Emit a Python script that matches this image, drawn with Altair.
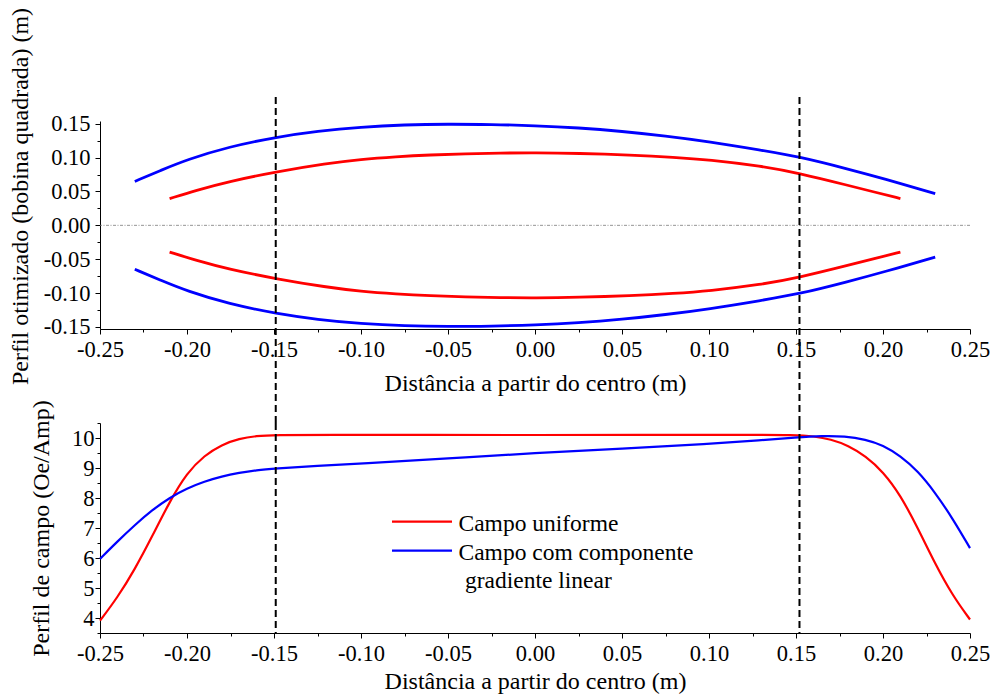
import altair as alt
import pandas as pd

# ---------------- data ----------------
# Top panel: optimised coil profile (m) vs distance from centre (m)
blue_top_x = [-0.230, -0.215, -0.200, -0.176, -0.148, -0.125, -0.100, -0.075, -0.050, -0.025,
              0.000, 0.025, 0.050, 0.075, 0.100, 0.130, 0.152, 0.180, 0.200, 0.230]
blue_up_y = [0.0648, 0.0813, 0.0970, 0.1160, 0.1306, 0.1390, 0.1452, 0.1485, 0.1495, 0.1488,
             0.1472, 0.1440, 0.1388, 0.1318, 0.1235, 0.1108, 0.1013, 0.0830, 0.0692, 0.0468]
blue_down_y = [-0.0648, -0.0813, -0.0970, -0.1160, -0.1306, -0.1390, -0.1452, -0.1485, -0.1495, -0.1488,
               -0.1472, -0.1440, -0.1388, -0.1318, -0.1235, -0.1108, -0.1013, -0.0830, -0.0692, -0.0468]

red_top_x = [-0.210, -0.195, -0.176, -0.148, -0.120, -0.100, -0.080, -0.060, -0.040, -0.020,
             0.000, 0.025, 0.055, 0.080, 0.100, 0.130, 0.152, 0.180, 0.195, 0.210]
red_up_y = [0.0395, 0.0515, 0.0648, 0.0794, 0.0912, 0.0975, 0.1013, 0.1040, 0.1057, 0.1067,
            0.1072, 0.1063, 0.1038, 0.1005, 0.0968, 0.0875, 0.0769, 0.0589, 0.0492, 0.0395]
red_down_y = [-0.0395, -0.0515, -0.0648, -0.0794, -0.0912, -0.0975, -0.1013, -0.1040, -0.1057, -0.1067,
              -0.1072, -0.1063, -0.1038, -0.1005, -0.0968, -0.0875, -0.0769, -0.0589, -0.0492, -0.0395]

# Bottom panel: field profile (Oe/Amp) vs distance from centre (m)
red_field_x = [-0.250, -0.240, -0.230, -0.220, -0.210, -0.200, -0.190, -0.180, -0.170, -0.160,
               -0.150, -0.120, -0.060, 0.000, 0.060, 0.120, 0.150, 0.160, 0.170, 0.180,
               0.190, 0.200, 0.210, 0.220, 0.230, 0.240, 0.250]
red_field_y = [3.91, 4.68, 5.62, 6.72, 7.88, 8.84, 9.42, 9.78, 9.98, 10.07,
               10.10, 10.11, 10.10, 10.10, 10.10, 10.11, 10.10, 10.06, 9.96, 9.75,
               9.40, 8.88, 8.10, 7.00, 5.80, 4.75, 3.95]

blue_field_x = [-0.250, -0.240, -0.230, -0.220, -0.210, -0.200, -0.190, -0.180, -0.170, -0.160,
                -0.150, -0.125, -0.100, -0.050, 0.000, 0.050, 0.100, 0.130, 0.150, 0.165,
                0.178, 0.190, 0.200, 0.210, 0.220, 0.230, 0.240, 0.250]
blue_field_y = [5.97, 6.55, 7.10, 7.60, 8.01, 8.32, 8.55, 8.72, 8.84, 8.93,
                8.98, 9.07, 9.15, 9.32, 9.50, 9.64, 9.80, 9.93, 10.02, 10.07,
                10.06, 9.95, 9.76, 9.40, 8.90, 8.18, 7.32, 6.33]

dashed_x = [-0.149, 0.152]

series_names = ["Campo uniforme", "Campo com componente gradiente linear"]
series_colors = ["#ff0000", "#0000ff"]
legend_lines = ["Campo uniforme", "Campo com componente", "gradiente linear"]

x_ticks = [-0.25, -0.225, -0.2, -0.175, -0.15, -0.125, -0.1, -0.075, -0.05, -0.025, 0.0,
           0.025, 0.05, 0.075, 0.1, 0.125, 0.15, 0.175, 0.2, 0.225, 0.25]
y_top_ticks = [-0.15, -0.125, -0.1, -0.075, -0.05, -0.025, 0.0, 0.025, 0.05, 0.075, 0.1, 0.125, 0.15]
y_bot_ticks = [3.5, 4.0, 4.5, 5.0, 5.5, 6.0, 6.5, 7.0, 7.5, 8.0, 8.5, 9.0, 9.5, 10.0, 10.5]

x_title = "Distância a partir do centro (m)"
y_title_top = "Perfil otimizado (bobina quadrada) (m)"
y_title_bottom = "Perfil de campo (Oe/Amp)"

# ---------------- tables ----------------
rows = []
for cid, sname, xs, ys in [
    ("red_up", series_names[0], red_top_x, red_up_y),
    ("red_down", series_names[0], red_top_x, red_down_y),
    ("blue_up", series_names[1], blue_top_x, blue_up_y),
    ("blue_down", series_names[1], blue_top_x, blue_down_y),
]:
    for xv, yv in zip(xs, ys):
        rows.append({"x": xv, "y": yv, "serie": sname, "curve": cid})
df_top = pd.DataFrame(rows)

rows = []
for sname, xs, ys in [
    (series_names[0], red_field_x, red_field_y),
    (series_names[1], blue_field_x, blue_field_y),
]:
    for xv, yv in zip(xs, ys):
        rows.append({"x": xv, "y": yv, "serie": sname})
df_bot = pd.DataFrame(rows)

df_dash = pd.DataFrame({"x": dashed_x})

FONT = "Liberation Serif"
MINUS = "\u2212"

major05 = "abs(datum.value*20 - round(datum.value*20)) < 0.01"
major1 = "abs(datum.value - round(datum.value)) < 0.01"

AX = dict(labelFont=FONT, titleFont=FONT, labelFontSize=22.5, titleFontSize=24,
          titleFontWeight="normal", labelColor="black", titleColor="black",
          domainColor="black", tickColor="black", domainWidth=1, tickWidth=1, grid=False,
          labelOverlap=False, labelFlush=False)


def tick_size(test):
    return {"condition": {"test": test, "value": 5}, "value": 3}


def x_axis(title_pad):
    return alt.Axis(
        values=x_ticks, title=x_title,
        tickSize=tick_size(major05),
        labelExpr=f"{major05} ? replace(format(datum.value, '.2f'), '{MINUS}', '-') : ''",
        labelPadding=4, titlePadding=title_pad, **AX,
    )


color = alt.Color("serie:N", scale=alt.Scale(domain=series_names, range=series_colors), legend=None)
x_scale = alt.Scale(domain=[-0.25, 0.25], nice=False, zero=False)

# ---------------- top panel ----------------
y_top_scale = alt.Scale(domain=[-0.153, 0.154], nice=False, zero=False)
y_top_axis = alt.Axis(
    values=y_top_ticks, title=y_title_top,
    tickSize=tick_size(major05),
    labelExpr=f"{major05} ? replace(format(datum.value, '.2f'), '{MINUS}', '-') : ''",
    labelPadding=5, titlePadding=11, titleY=75, **AX,
)

TOP_H = 208
BOT_H = 210
GAP = 94
W = 870

top_lines = alt.Chart(df_top).mark_line(strokeWidth=2.8, interpolate="basis").encode(
    x=alt.X("x:Q", scale=x_scale, axis=x_axis(11)),
    y=alt.Y("y:Q", scale=y_top_scale, axis=y_top_axis),
    color=color,
    detail="curve:N",
)
zero_line = alt.Chart(pd.DataFrame({"y": [0.0]})).mark_rule(
    color="#777777", strokeWidth=0.8, strokeDash=[3, 1.5, 1, 1.5]
).encode(y=alt.Y("y:Q", scale=y_top_scale, axis=y_top_axis))
top_dash = alt.Chart(df_dash).mark_rule(color="black", strokeWidth=2, strokeDash=[7, 4]).encode(
    x=alt.X("x:Q", scale=x_scale, axis=x_axis(11)),
    y=alt.value(-24),
    y2=alt.value(TOP_H + GAP),
)
top = alt.layer(zero_line, top_lines, top_dash).properties(width=W, height=TOP_H)

# ---------------- bottom panel ----------------
y_bot_scale = alt.Scale(domain=[3.5, 10.5], nice=False, zero=False)
y_bot_axis = alt.Axis(
    values=y_bot_ticks, title=y_title_bottom,
    tickSize=tick_size(major1),
    labelExpr=f"{major1} ? format(datum.value, 'd') : ''",
    labelPadding=1, titlePadding=18, **AX,
)
bot_lines = alt.Chart(df_bot).mark_line(strokeWidth=2.2, interpolate="basis").encode(
    x=alt.X("x:Q", scale=x_scale, axis=x_axis(5)),
    y=alt.Y("y:Q", scale=y_bot_scale, axis=y_bot_axis),
    color=color,
)
bot_dash = alt.Chart(df_dash).mark_rule(color="black", strokeWidth=2, strokeDash=[7, 4]).encode(
    x=alt.X("x:Q", scale=x_scale, axis=x_axis(5)),
    y=alt.value(0),
    y2=alt.value(BOT_H),
)

one = pd.DataFrame({"k": [0]})
leg_red = alt.Chart(one).mark_rule(color=series_colors[0], strokeWidth=2.2).encode(
    x=alt.value(292), x2=alt.value(352), y=alt.value(98.7))
leg_blue = alt.Chart(one).mark_rule(color=series_colors[1], strokeWidth=2.2).encode(
    x=alt.value(292), x2=alt.value(352), y=alt.value(127.7))
leg_t1 = alt.Chart(pd.DataFrame({"t": [legend_lines[0]]})).mark_text(
    align="left", baseline="alphabetic", font=FONT, fontSize=23.5, color="black"
).encode(text="t:N", x=alt.value(358.5), y=alt.value(107.5))
leg_t2 = alt.Chart(pd.DataFrame({"t": [legend_lines[1]]})).mark_text(
    align="left", baseline="alphabetic", font=FONT, fontSize=23.5, color="black"
).encode(text="t:N", x=alt.value(358.5), y=alt.value(136.5))
leg_t3 = alt.Chart(pd.DataFrame({"t": [legend_lines[2]]})).mark_text(
    align="left", baseline="alphabetic", font=FONT, fontSize=23.5, color="black"
).encode(text="t:N", x=alt.value(365), y=alt.value(164.5))

bottom = alt.layer(bot_lines, bot_dash, leg_red, leg_blue, leg_t1, leg_t2, leg_t3).properties(
    width=W, height=BOT_H)

chart = alt.vconcat(top, bottom, spacing=GAP, bounds="flush").properties(
    padding={"left": 8, "top": 7, "right": 0, "bottom": 0},
    background="white",
).configure_axis(
    labelFont=FONT, titleFont=FONT, labelFontSize=22.5, titleFontSize=24,
    titleFontWeight="normal", labelColor="black", titleColor="black",
    domainColor="black", tickColor="black", domainWidth=1, tickWidth=1,
).configure_view(strokeWidth=0)

chart.save("out.html", embed_options={"renderer": "svg", "actions": False})
